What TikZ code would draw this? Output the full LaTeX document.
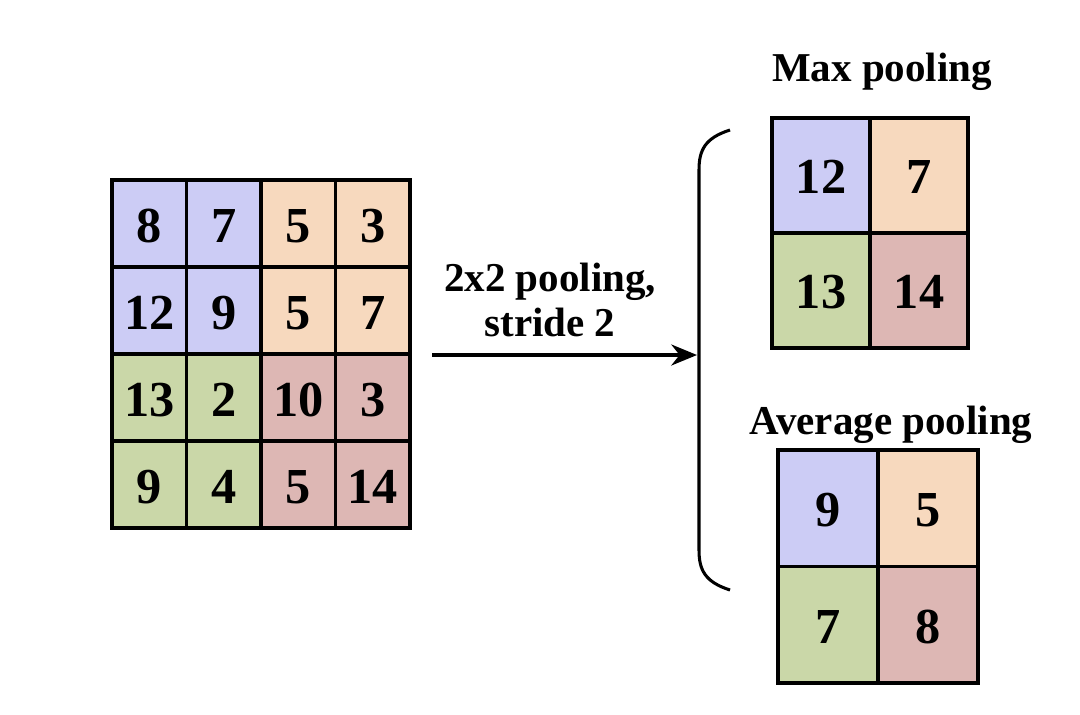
\documentclass[tikz,border=0pt]{standalone}
\usepackage{fontspec}
\setmainfont{Liberation Serif}
\usetikzlibrary{positioning,arrows.meta}
\definecolor{cblue}{HTML}{CCCCF5}
\definecolor{corange}{HTML}{F7D9BE}
\definecolor{cgreen}{HTML}{CAD7A8}
\definecolor{cred}{HTML}{DDB7B4}
\tikzset{
  num/.style={font=\fontsize{43}{43}\selectfont\bfseries},
  ttl/.style={font=\fontsize{35}{38}\selectfont\bfseries},
  cell/.style={line width=2.8pt},
}
\begin{document}
\begin{tikzpicture}[x=0.03cm,y=-0.03cm]
\useasboundingbox (0,0) rectangle (1080,714);
% input map
\foreach \r/\c/\v/\col in {0/0/8/cblue,0/1/7/cblue,0/2/5/corange,0/3/3/corange,
  1/0/12/cblue,1/1/9/cblue,1/2/5/corange,1/3/7/corange,
  2/0/13/cgreen,2/1/2/cgreen,2/2/10/cred,2/3/3/cred,
  3/0/9/cgreen,3/1/4/cgreen,3/2/5/cred,3/3/14/cred}{
  \draw[cell, fill=\col] (112+74.5*\c,180+87*\r) rectangle ++(74.5,87);
  \node[num] (in\r\c) at (149.25+74.5*\c,226+87*\r) {\v};
}
% max pooling
\node[ttl] (maxt) at (882,72) {Max pooling};
\foreach \r/\c/\v/\col in {0/0/12/cblue,0/1/7/corange,1/0/13/cgreen,1/1/14/cred}{
  \draw[cell, fill=\col] (772+98*\c,118+115*\r) rectangle ++(98,115);
  \node[num] (mx\r\c) at (821+98*\c,177+115*\r) {\v};
}
% average pooling
\node[ttl] (avgt) at (891,425) {Average pooling};
\foreach \r/\c/\v/\col in {0/0/9/cblue,0/1/5/corange,1/0/7/cgreen,1/1/8/cred}{
  \draw[cell, fill=\col] (778+100*\c,450+116.5*\r) rectangle ++(100,116.5);
  \node[num] (av\r\c) at (828+100*\c,510+116.5*\r) {\v};
}
% arrow and brace
\coordinate (src) at (432,355);
\coordinate (tip) at (697,355);
\draw[line width=2.6pt, -{Stealth[length=22pt,width=18pt]}] (src) -- (tip);
\node[ttl, align=center] (lbl) at (550,300) {2x2 pooling,\\stride 2};
\draw[line width=2.6pt] (730,130) .. controls (705,138) and (699,150) .. (699,170)
  -- (699,550) .. controls (699,570) and (705,582) .. (730,590);
\end{tikzpicture}
\end{document}
